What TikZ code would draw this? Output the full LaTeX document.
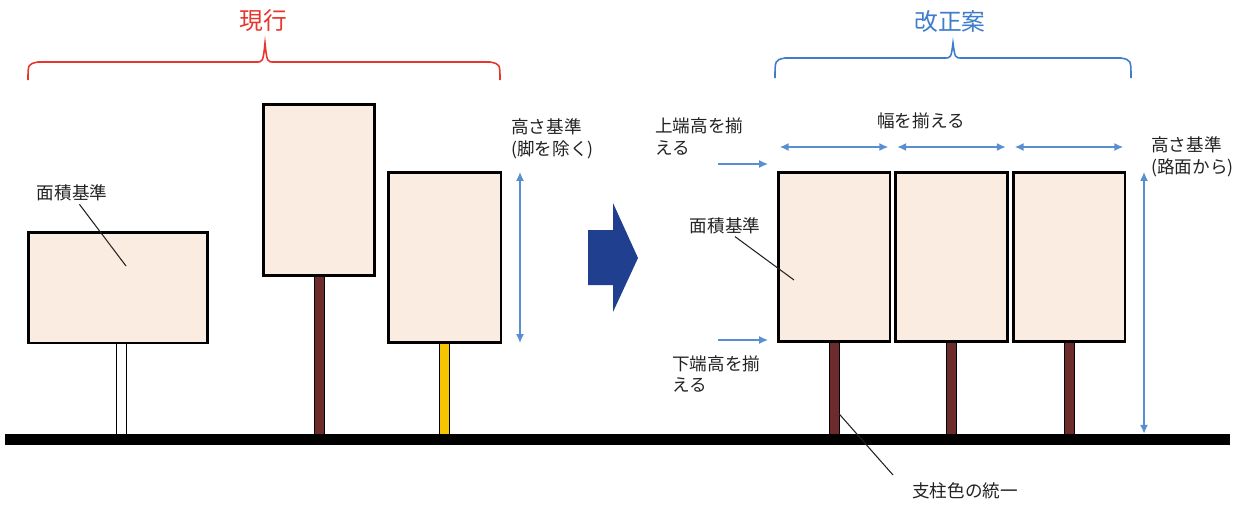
\documentclass[tikz,border=0pt]{standalone}
\usepackage{fontspec}
\setmainfont{Noto Sans CJK JP}
\usetikzlibrary{arrows.meta,calc}
\definecolor{signfill}{HTML}{FBECE2}
\definecolor{postbrown}{HTML}{6E2B2B}
\definecolor{postyellow}{HTML}{F6C500}
\definecolor{dimblue}{HTML}{5A8ED2}
\definecolor{bracered}{HTML}{E8352E}
\definecolor{braceblue}{HTML}{3E7DCB}
\definecolor{bigarrow}{HTML}{213F8F}
\definecolor{txt}{HTML}{222222}
\begin{document}
\begin{tikzpicture}[x=0.02cm,y=-0.02cm,
  sign/.style={draw=black,line width=1.7pt,fill=signfill,inner sep=0pt,outer sep=0pt},
  post/.style={draw=black,line width=0.5pt,minimum width=0.2cm,inner sep=0pt,outer sep=0pt,anchor=north},
  lbl/.style={font=\fontsize{10}{12.3}\selectfont,text=txt,inner sep=0pt,align=left},
  title/.style={font=\fontsize{13.5}{16}\selectfont,inner sep=0pt},
  leader/.style={draw=txt,line width=0.6pt},
  dim/.style={draw=dimblue,line width=0.8pt,{Latex[length=5pt,width=4.5pt]}-{Latex[length=5pt,width=4.5pt]}},
  onedim/.style={draw=dimblue,line width=0.8pt,-{Latex[length=5pt,width=4.5pt]}},
  bracestyle/.style={line width=0.9pt}
]
\useasboundingbox[fill=white] (0,0) rectangle (1251,504);

% ---------- current (left) ----------
\node[post,fill=white,minimum height=1.82cm] (p1) at (121,343) {};
\node[sign,minimum width=3.6cm,minimum height=2.22cm] (s1) at (118,287.5) {};
\node[sign,minimum width=2.24cm,minimum height=3.44cm] (s2) at (319,190) {};
\node[post,fill=postbrown,minimum height=3.16cm] (p2) at (s2.south) {};
\node[sign,minimum width=2.26cm,minimum height=3.42cm] (s3) at (444.5,257.5) {};
\node[post,fill=postyellow,minimum height=1.82cm] (p3) at (s3.south) {};

% ---------- proposed (right) ----------
\node[sign,minimum width=2.24cm,minimum height=3.4cm] (sA) at (834,257) {};
\node[sign,minimum width=2.24cm,minimum height=3.4cm] (sB) at (951.5,257) {};
\node[sign,minimum width=2.24cm,minimum height=3.4cm] (sC) at (1069,257) {};
\node[post,fill=postbrown,minimum height=1.84cm] (pA) at (sA.south) {};
\node[post,fill=postbrown,minimum height=1.84cm] (pB) at (sB.south) {};
\node[post,fill=postbrown,minimum height=1.84cm] (pC) at (sC.south) {};

% ---------- ground ----------
\node[fill=black,inner sep=0pt,minimum width=24.5cm,minimum height=0.22cm] (g) at (617.5,439.5) {};

% ---------- big arrow ----------
\fill[bigarrow] (588,230) -- (613,230) -- (613,203) -- (638,258) -- (613,312) -- (613,285) -- (588,285) -- cycle;

% ---------- braces ----------
\node[title,text=bracered] (t1) at (263,21) {現行};
\coordinate (rb1) at (28,80);
\coordinate (rb2) at (500,80);
\coordinate (rbt) at (265,43);
\draw[bracered,bracestyle] (rb1) .. controls (28,64) .. (38,62) -- (256,62)
  .. controls (263,62) .. (rbt) .. controls (267,62) .. (274,62) -- (490,62)
  .. controls (500,64) .. (rb2);

\node[title,text=braceblue] (t2) at (950,22) {改正案};
\coordinate (bb1) at (775,78);
\coordinate (bb2) at (1131,78);
\coordinate (bbt) at (953,43);
\draw[braceblue,bracestyle] (bb1) .. controls (775,60) .. (785,58) -- (944,58)
  .. controls (951,58) .. (bbt) .. controls (955,58) .. (962,58) -- (1121,58)
  .. controls (1131,60) .. (bb2);

% ---------- left labels ----------
\node[lbl] (l1) at (72,193) {面積基準};
\coordinate (c1) at (126,266);
\draw[leader,shorten <=2pt] (l1.-58) -- (c1);

\node[lbl,anchor=west] (l2) at (511,138.5) {高さ基準\\(脚を除く)};
\coordinate (hL) at (520,0);
\draw[dim] (s3.north east -| hL) -- (s3.south east -| hL);

% ---------- right labels ----------
\node[lbl,anchor=west] (l3) at (655,136.5) {上端高を揃\\える};
\node[lbl,anchor=west] (l4) at (672,374) {下端高を揃\\える};
\node[lbl] (l5) at (921,121) {幅を揃える};
\node[lbl,anchor=west] (l6) at (1151,156.5) {高さ基準\\(路面から)};
\node[lbl] (l7) at (725,226) {面積基準};
\coordinate (c2) at (794,280);
\draw[leader,shorten <=2pt] (l7.-50) -- (c2);
\node[lbl] (l8) at (965,491) {支柱色の統一};
\draw[leader] ($(pA.south east)!0.22!(pA.north east)$) -- (893,475);

% width arrows
\coordinate (wy) at (0,147);
\draw[dim,shorten >=1pt,shorten <=1pt] (sA.west |- wy) -- (sA.east |- wy);
\draw[dim,shorten >=1pt,shorten <=1pt] (sB.west |- wy) -- (sB.east |- wy);
\draw[dim,shorten >=1pt,shorten <=1pt] (sC.west |- wy) -- (sC.east |- wy);

% top/bottom alignment arrows
\coordinate (ta0) at (718,164);
\coordinate (ta1) at (768,164);
\draw[onedim] (ta0) -- (ta1);
\coordinate (ba0) at (718,340);
\coordinate (ba1) at (768,340);
\draw[onedim] (ba0) -- (ba1);

% height from road
\coordinate (hR) at (1144,0);
\draw[dim] (sC.north -| hR) -- (g.north -| hR);
\end{tikzpicture}
\end{document}
